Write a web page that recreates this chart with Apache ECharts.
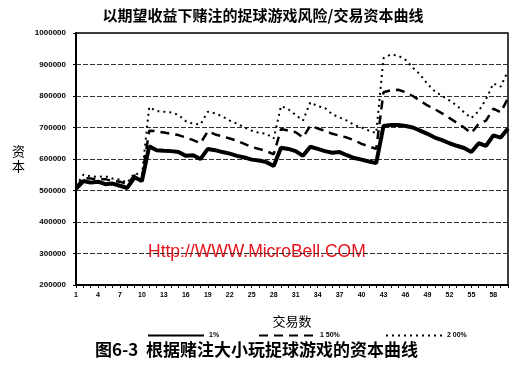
<!DOCTYPE html>
<html>
<head>
<meta charset="utf-8">
<script src="https://cdn.jsdelivr.net/npm/echarts@6/dist/echarts.min.js"></script>
<style>html,body{margin:0;padding:0;background:#fff}#c{width:526px;height:366px}</style>
</head>
<body>
<div id="c"></div>
<script>
var categories = [];
for (var k = 1; k <= 60; k++) categories.push(String(k));

var seriesNames = ['1%', '1 50%', '2 00%'];

var s1 = [505000, 530000, 525000, 528000, 520000, 522000, 515000, 508000, 542000, 530000,
  640000, 628000, 626000, 625000, 622000, 610000, 612000, 600000, 632000, 628000, 622000, 617000, 610000, 605000, 598000, 595000, 590000, 578000,
  636000, 632000, 625000, 610000, 639000, 632000, 625000, 620000, 622000, 612000, 603000, 598000, 592000, 587000,
  705000, 708000, 708000, 705000, 700000, 690000, 680000, 668000, 660000, 650000, 642000, 635000, 622000, 650000, 642000, 675000, 668000, 697000];

var s2 = [510000, 540000, 538000, 535000, 536000, 530000, 528000, 520000, 548000, 540000,
  690000, 688000, 684000, 680000, 676000, 668000, 660000, 650000, 688000, 678000, 672000, 665000, 658000, 648000, 638000, 632000, 625000, 615000,
  695000, 690000, 685000, 668000, 706000, 697000, 690000, 680000, 674000, 668000, 660000, 648000, 640000, 632000,
  812000, 818000, 820000, 812000, 800000, 785000, 770000, 758000, 745000, 730000, 715000, 700000, 682000, 712000, 722000, 760000, 748000, 793000];

var s3 = [515000, 550000, 545000, 543000, 545000, 538000, 535000, 525000, 555000, 548000,
  765000, 752000, 750000, 748000, 740000, 720000, 712000, 710000, 750000, 745000, 735000, 722000, 712000, 700000, 690000, 683000, 680000, 665000,
  768000, 758000, 740000, 722000, 780000, 768000, 762000, 742000, 732000, 722000, 708000, 700000, 690000, 682000,
  920000, 932000, 928000, 915000, 890000, 868000, 838000, 815000, 800000, 786000, 770000, 748000, 730000, 752000, 790000, 840000, 830000, 880000];

var cjk = '"Noto Sans CJK SC", sans-serif';
var chart = echarts.init(document.getElementById('c'));
function legendAt(left, name) {
  return {
    left: left, top: 327, itemWidth: 56, itemHeight: 8, data: [name],
    itemStyle: { opacity: 0 },
    textStyle: { fontSize: 7, fontWeight: 'bold', color: '#000', fontFamily: 'Arial' }
  };
}
chart.setOption({
  animation: false,
  backgroundColor: '#fff',
  title: {
    text: '以期望收益下赌注的捉球游戏风险/交易资本曲线',
    left: 'center', top: 3,
    textStyle: { fontSize: 15, fontWeight: 'bold', color: '#000', fontFamily: cjk }
  },
  legend: [legendAt(142, seriesNames[0]), legendAt(253, seriesNames[1]), legendAt(380, seriesNames[2])],
  grid: { left: 76, right: 18, top: 33, bottom: 81, show: true, borderColor: '#000', borderWidth: 1.5 },
  xAxis: {
    type: 'category', data: categories, boundaryGap: false,
    name: '交易数', nameLocation: 'middle', nameGap: 30,
    nameTextStyle: { fontSize: 13, color: '#000', fontFamily: cjk },
    axisLine: { lineStyle: { color: '#000', width: 2 } },
    axisTick: { interval: 0, length: 3, lineStyle: { color: '#000' } },
    axisLabel: { interval: 2, fontSize: 7, fontWeight: 'bold', color: '#000', margin: 7, fontFamily: 'Arial' }
  },
  yAxis: {
    type: 'value', min: 200000, max: 1000000, interval: 100000,
    axisLine: { show: true, lineStyle: { color: '#000', width: 2 } },
    axisTick: { show: true, length: 3, lineStyle: { color: '#000' } },
    axisLabel: { fontSize: 8, fontWeight: 'bold', color: '#000', margin: 10, fontFamily: 'Arial', formatter: function (v) { return String(v); } },
    splitLine: { lineStyle: { color: '#333', type: [5, 2], width: 1 } }
  },
  series: [
    { name: seriesNames[0], type: 'line', data: s1, symbol: 'none', lineStyle: { color: '#000', width: 4 }, itemStyle: { color: '#000' } },
    { name: seriesNames[1], type: 'line', data: s2, symbol: 'none', lineStyle: { color: '#000', width: 2.5, type: [9, 6] }, itemStyle: { color: '#000' } },
    { name: seriesNames[2], type: 'line', data: s3, symbol: 'none', lineStyle: { color: '#000', width: 2, type: [2, 4] }, itemStyle: { color: '#000' } }
  ],
  graphic: [
    { type: 'text', left: 12, top: 144, style: { text: '资\n本', fontSize: 13, lineHeight: 15, fill: '#000', fontFamily: cjk } },
    { type: 'text', left: 148, top: 243, style: { text: 'Http://WWW.MicroBell.COM', fontSize: 17.5, fill: '#e8141c', fontFamily: 'Arial' } },
    { type: 'text', left: 95, top: 341, style: { text: '图6-3  根据赌注大小玩捉球游戏的资本曲线', fontSize: 17, fontWeight: 'bold', fill: '#000', fontFamily: cjk } }
  ]
});
</script>
</body>
</html>
